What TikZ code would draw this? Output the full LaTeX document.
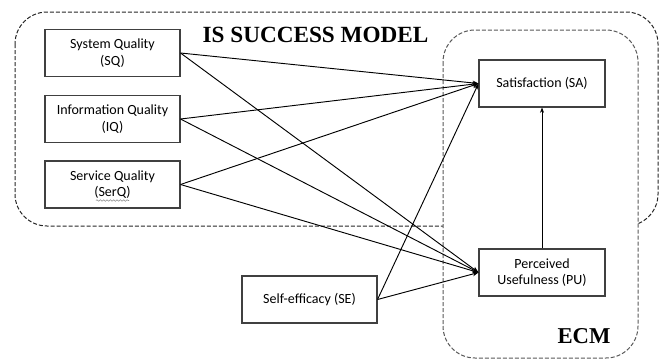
\documentclass[tikz,border=0pt]{standalone}
\usepackage{fontspec}
\setmainfont{Liberation Serif}
\newfontfamily\boxfont{Carlito}
\usetikzlibrary{arrows.meta,decorations.pathmorphing}
\begin{document}
\begin{tikzpicture}[x=0.75pt,y=-0.75pt,
  varbox/.style={draw=black!75,line width=0.8pt,fill=white,minimum width=101.25pt,minimum height=35.25pt,align=center,inner sep=1pt,font=\boxfont\fontsize{10.5}{12.5}\selectfont},
  link/.style={line width=0.7pt,-{Stealth[length=4.5pt,width=3.5pt]}},
  region/.style={draw=black!85,dashed,dash pattern=on 3pt off 1.5pt,line width=0.75pt,rounded corners=24pt},
  title/.style={font=\bfseries\fontsize{17.4}{19}\selectfont,inner sep=0pt}]
\useasboundingbox (0,0) rectangle (666,361);
% outer IS success region
\draw[region] (15,12) rectangle (658,226);
% ECM region (white fill hides the outer border inside)
\fill[white,rounded corners=24pt] (443,30) rectangle (638,358);
\draw[region,draw=black!65] (443,30) rectangle (638,358);
\node[title] (ist) at (315.5,35) {IS SUCCESS MODEL};
\node[title,font=\bfseries\fontsize{17}{19}\selectfont] (ecm) at (584,336) {ECM};
% nodes
\node[varbox] (sq) at (112.5,53) {System Quality\\(SQ)};
\node[varbox] (iq) at (112.5,119) {Information Quality\\(IQ)};
\node[varbox] (serq) at (112.5,184.5) {Service Quality\\(SerQ)};
\node[varbox] (se) at (309.5,299.5) {Self-efficacy (SE)};
\node[varbox,minimum width=94.5pt] (sa) at (542,83.5) {Satisfaction (SA)};
\node[varbox,minimum width=94.5pt] (pu) at (542,272.5) {Perceived\\Usefulness (PU)};
% spell-check squiggle
\draw[black!45,line width=0.4pt,decorate,decoration={snake,amplitude=0.6pt,segment length=2.5pt}] (96,200.5) -- (129,200.5);
% connectors
\draw[link] (sq.east) -- (sa.west);
\draw[link] (sq.east) -- (pu.west);
\draw[link] (iq.east) -- (sa.west);
\draw[link] (iq.east) -- (pu.west);
\draw[link] (serq.east) -- (sa.west);
\draw[link] (serq.east) -- (pu.west);
\draw[link] (se.east) -- (sa.west);
\draw[link] (se.east) -- (pu.west);
\draw[line width=0.5pt,-{Stealth[length=4pt,width=3pt]}] (pu.north) -- (sa.south);
\end{tikzpicture}
\end{document}
